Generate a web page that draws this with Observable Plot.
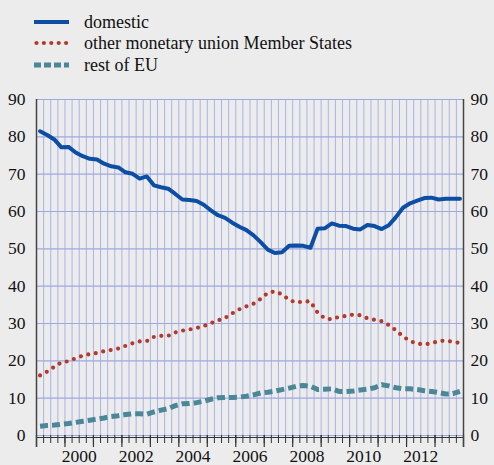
<!DOCTYPE html>
<html>
<head>
<meta charset="utf-8">
<script src="https://cdn.jsdelivr.net/npm/d3@7"></script>
<script src="https://cdn.jsdelivr.net/npm/@observablehq/plot@0.6"></script>
<style>
  html, body { margin: 0; padding: 0; background: #ececec; }
  #wrap { width: 494px; height: 465px; position: relative; font-family: "Liberation Serif", "DejaVu Serif", "Times New Roman", serif; color: #111; }
  #legend { position: relative; height: 80px; }
  .row { position: absolute; left: 0; height: 22px; }
  .row svg { position: absolute; left: 34px; top: 0; }
  .row span { position: absolute; left: 84px; top: 0; font-size: 18px; line-height: 22px; white-space: nowrap; }
</style>
</head>
<body>
<div id="wrap">
  <div id="legend"></div>
  <div id="chart"></div>
</div>
<script>
// Quarterly observations, 1999 Q1 to 2013 Q4
const startYear = 1999;
const seriesNames = ["domestic", "other monetary union Member States", "rest of EU"];
const domestic = [
  81.5, 80.5, 79.3, 77.2, 77.3, 75.8, 74.8, 74.1, 73.9, 72.8,
  72.1, 71.8, 70.5, 70.1, 68.8, 69.4, 67.0, 66.5, 66.1, 64.7,
  63.2, 63.1, 62.8, 61.8, 60.3, 59.0, 58.3, 57.0, 55.9, 55.0,
  53.6, 51.8, 49.8, 48.9, 49.1, 50.8, 50.9, 50.8, 50.3, 55.4,
  55.5, 56.8, 56.2, 56.1, 55.4, 55.2, 56.4, 56.1, 55.3, 56.3,
  58.5, 61.0, 62.2, 62.9, 63.6, 63.7, 63.2, 63.4, 63.4, 63.4
];
const otherMU = [
  16.1, 17.1, 18.4, 19.6, 19.9, 20.7, 21.4, 21.8, 22.1, 22.6,
  22.9, 23.3, 24.0, 24.7, 25.2, 25.3, 26.4, 26.7, 26.7, 27.6,
  28.1, 28.4, 28.8, 29.3, 30.1, 30.8, 31.5, 32.7, 33.8, 34.6,
  35.3, 36.6, 38.2, 38.6, 37.8, 36.3, 35.6, 35.9, 35.9, 32.9,
  31.4, 31.1, 31.8, 32.0, 32.4, 32.2, 31.4, 31.0, 30.6, 29.6,
  28.2, 26.5, 25.3, 24.6, 24.4, 24.7, 25.3, 25.4, 25.1, 24.8
];
const restEU = [
  2.5, 2.7, 2.8, 3.0, 3.2, 3.5, 3.8, 4.1, 4.4, 4.7,
  5.1, 5.3, 5.6, 5.8, 5.8, 5.7, 6.3, 6.8, 7.2, 8.0,
  8.5, 8.6, 8.8, 9.2, 9.7, 10.1, 10.2, 10.2, 10.3, 10.5,
  10.9, 11.4, 11.6, 11.9, 12.3, 12.7, 13.2, 13.4, 13.2, 12.3,
  12.4, 12.5, 11.8, 11.8, 11.9, 12.2, 12.4, 12.8, 13.6, 13.3,
  12.8, 12.5, 12.5, 12.3, 12.0, 11.8, 11.5, 11.1, 11.2, 11.8
];
const yTicks = [0, 10, 20, 30, 40, 50, 60, 70, 80, 90];
const yearLabels = [2000, 2002, 2004, 2006, 2008, 2010, 2012];

const colors = { domestic: "#0c4ea3", other: "#b3392d", rest: "#4b8796" };
const FONT = "'Liberation Serif', 'DejaVu Serif', 'Times New Roman', serif";

// quarter position: mid-quarter in fractional years
const qx = i => startYear + Math.floor(i / 4) + (i % 4) / 4 + 0.125;
const rows = (vals, name) => vals.map((v, i) => ({ t: qx(i), v, name }));
const dDom = rows(domestic, seriesNames[0]);
const dOth = rows(otherMU, seriesNames[1]);
const dRest = rows(restEU, seriesNames[2]);

const quarterBounds = d3.range(1999.25, 2014, 0.25);
const yearBounds = d3.range(1999, 2015, 1);

const chart = Plot.plot({
  width: 494,
  height: 385,
  marginTop: 19,
  marginBottom: 30,
  marginLeft: 36,
  marginRight: 31,
  style: { fontFamily: FONT, fontSize: "17.5px", background: "#ececec", color: "#111", overflow: "visible" },
  x: { domain: [1999, 2014], label: null },
  y: { domain: [0, 90], label: null },
  marks: [
    Plot.gridX({ ticks: quarterBounds, stroke: "#aab3e6", strokeOpacity: 1, strokeWidth: 1 }),
    Plot.gridY({ ticks: yTicks, stroke: "#9ea9e0", strokeOpacity: 1, strokeWidth: 1.2 }),
    // bottom tick marks
    Plot.axisX({ ticks: quarterBounds, tickSize: 8, tickFormat: () => "", label: null, stroke: "#333", strokeWidth: 1 }),
    Plot.axisX({ ticks: yearBounds, tickSize: 12, tickFormat: () => "", label: null, stroke: "#333", strokeWidth: 1.2 }),
    Plot.ruleY([0], { stroke: "#333", strokeWidth: 1, dy: 2 }),
    // year labels centred on each year
    Plot.axisX({ ticks: yearLabels.map(y => y + 0.5), tickSize: 0, tickPadding: 14, label: null, tickFormat: d => String(Math.floor(d)), fill: "#111", fontSize: 17.5 }),
    // y axes labels
    Plot.axisY({ anchor: "left", ticks: yTicks, tickSize: 0, tickPadding: 11, label: null, fill: "#111", fontSize: 17.5 }),
    Plot.axisY({ anchor: "right", ticks: yTicks, tickSize: 0, tickPadding: 7, label: null, fill: "#111", fontSize: 17.5 }),
    // frame side lines
    Plot.ruleX([1999, 2014], { y1: 90, y2: 0, insetBottom: -12, stroke: "#444", strokeWidth: 1.5 }),
    // series
    Plot.line(dRest, { x: "t", y: "v", stroke: colors.rest, strokeWidth: 5, strokeDasharray: "8,4", strokeLinecap: "butt" }),
    Plot.line(dOth, { x: "t", y: "v", stroke: colors.other, strokeWidth: 4.2, strokeDasharray: "0,7.6", strokeLinecap: "round" }),
    Plot.line(dDom, { x: "t", y: "v", stroke: colors.domestic, strokeWidth: 4, strokeLinejoin: "round" })
  ]
});
document.getElementById("chart").appendChild(chart);

// Legend
const legend = document.getElementById("legend");
const styles = [
  { stroke: colors.domestic, width: 4, dash: null, cap: "butt" },
  { stroke: colors.other, width: 4.2, dash: "0,7.4", cap: "round" },
  { stroke: colors.rest, width: 5, dash: "7,3", cap: "butt" }
];
const rowTops = [11, 32, 54];
seriesNames.forEach((name, i) => {
  const row = document.createElement("div");
  row.className = "row";
  row.style.top = rowTops[i] + "px";
  const s = styles[i];
  const ns = "http://www.w3.org/2000/svg";
  const svg = document.createElementNS(ns, "svg");
  svg.setAttribute("width", "36");
  svg.setAttribute("height", "22");
  const ln = document.createElementNS(ns, "line");
  ln.setAttribute("x1", i === 1 ? "2.5" : "0");
  ln.setAttribute("x2", "35");
  ln.setAttribute("y1", "11");
  ln.setAttribute("y2", "11");
  ln.setAttribute("stroke", s.stroke);
  ln.setAttribute("stroke-width", s.width);
  ln.setAttribute("stroke-linecap", s.cap);
  if (s.dash) ln.setAttribute("stroke-dasharray", s.dash);
  svg.appendChild(ln);
  row.appendChild(svg);
  const span = document.createElement("span");
  span.textContent = name;
  row.appendChild(span);
  legend.appendChild(row);
});
</script>
</body>
</html>
